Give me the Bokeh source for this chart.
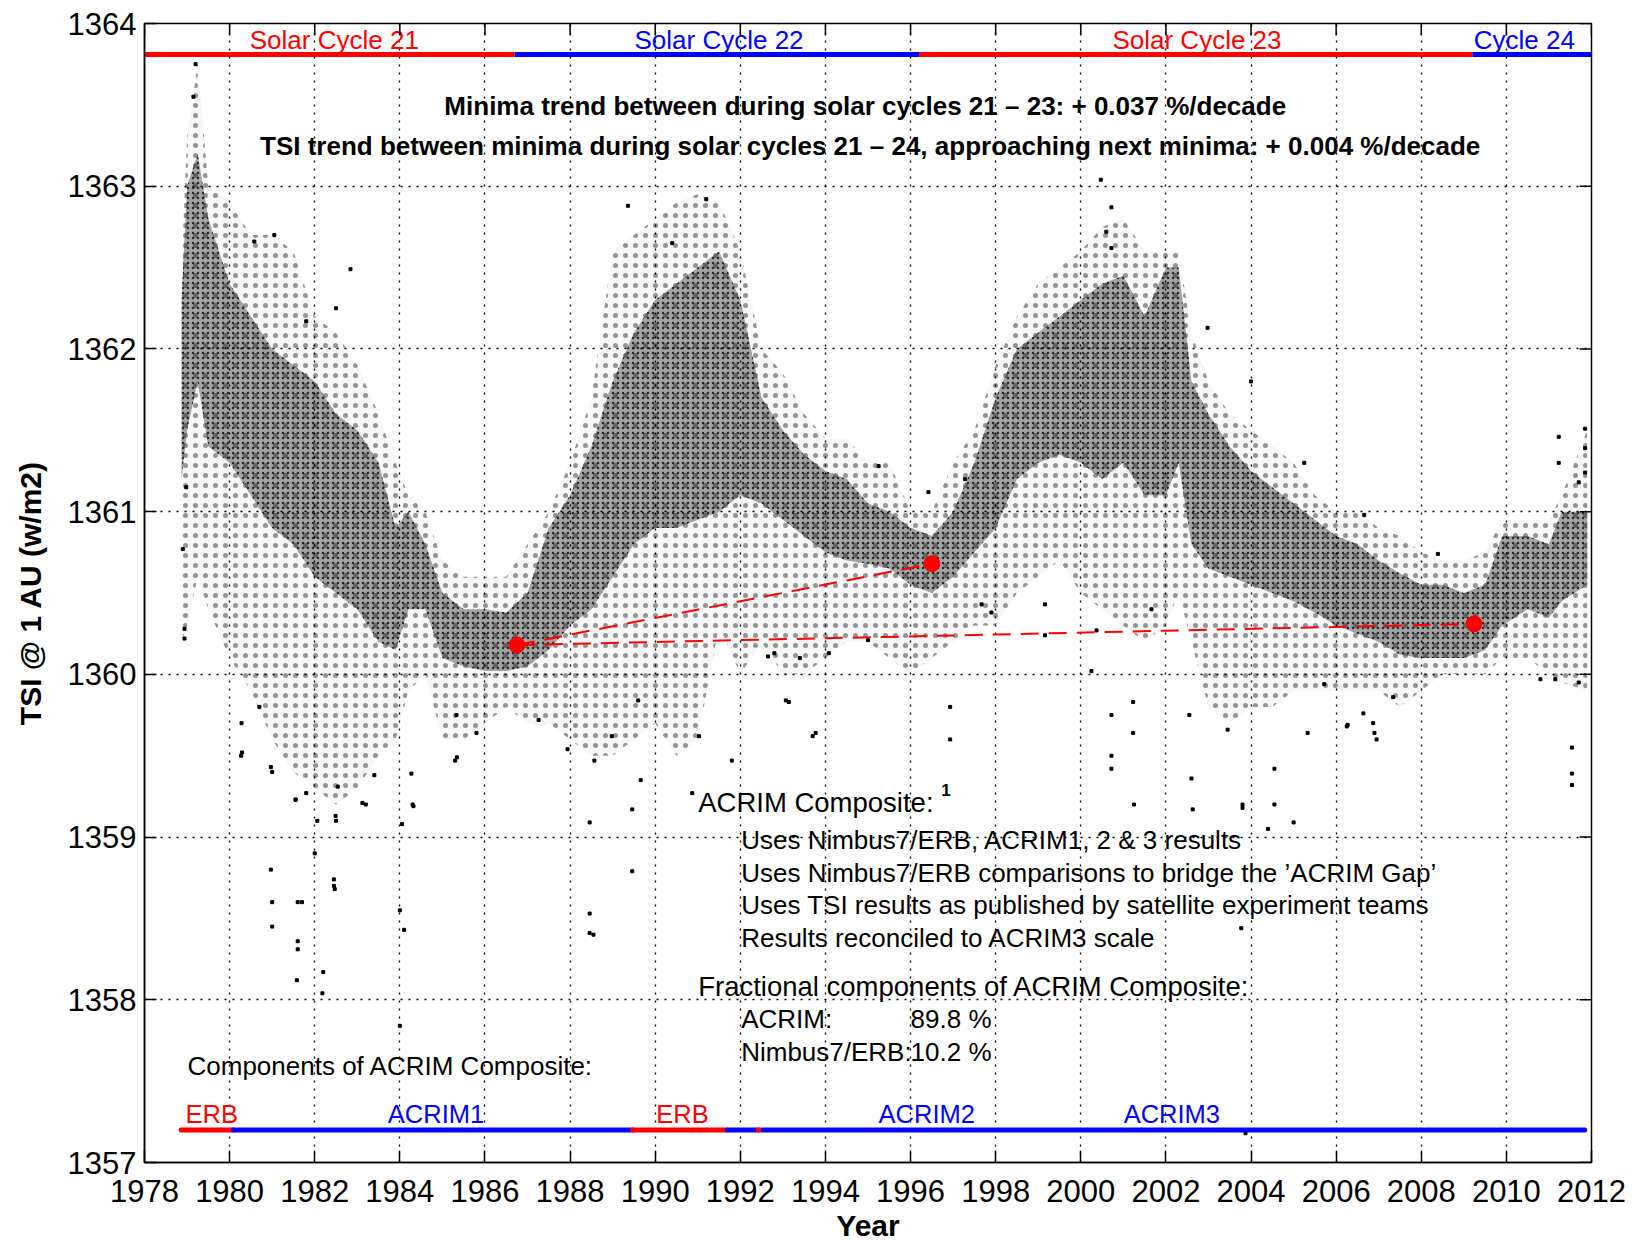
from bokeh.plotting import figure
from bokeh.models import Range1d, FixedTicker
from bokeh.core.properties import value
from bokeh.embed import file_html
from bokeh.resources import INLINE

# ---------------- data ----------------
x_ticks = list(range(1978, 2013, 2))
y_ticks = list(range(1357, 1365))

# envelope of the daily TSI cloud
env_year = [1978.87, 1979.0, 1979.25, 1979.5, 1980.0, 1980.5, 1981.0, 1981.5, 1982.0, 1982.5,
            1983.0, 1983.5, 1983.9, 1984.2, 1984.6, 1985.0, 1985.5, 1986.0, 1986.5, 1987.0,
            1987.5, 1988.0, 1988.5, 1989.0, 1989.5, 1990.0, 1990.5, 1991.0, 1991.5, 1992.0,
            1992.5, 1993.0, 1993.5, 1994.0, 1994.5, 1995.0, 1995.5, 1996.0, 1996.5, 1997.0,
            1997.5, 1998.0, 1998.5, 1999.0, 1999.5, 2000.0, 2000.5, 2001.0, 2001.5, 2002.0,
            2002.3, 2002.6, 2003.0, 2003.5, 2004.0, 2004.5, 2005.0, 2005.5, 2006.0, 2006.5,
            2007.0, 2007.5, 2008.0, 2008.5, 2009.0, 2009.5, 2009.9, 2010.5, 2011.0, 2011.3,
            2011.9]
core_lo = [1361.2, 1361.5, 1361.8, 1361.4, 1361.3, 1361.1, 1360.9, 1360.8, 1360.6, 1360.5,
           1360.4, 1360.2, 1360.15, 1360.4, 1360.4, 1360.1, 1360.05, 1360.02, 1360.02, 1360.05,
           1360.15, 1360.3, 1360.4, 1360.6, 1360.8, 1360.9, 1360.9, 1360.95, 1361.0, 1361.1,
           1361.05, 1360.95, 1360.85, 1360.75, 1360.7, 1360.68, 1360.65, 1360.55, 1360.5, 1360.6,
           1360.75, 1360.9, 1361.2, 1361.3, 1361.35, 1361.3, 1361.2, 1361.3, 1361.1, 1361.1,
           1361.3, 1360.8, 1360.65, 1360.6, 1360.55, 1360.5, 1360.45, 1360.38, 1360.3, 1360.25,
           1360.2, 1360.12, 1360.1, 1360.1, 1360.1, 1360.15, 1360.3, 1360.4, 1360.35, 1360.45,
           1360.55]
core_hi = [1362.3, 1363.0, 1363.2, 1362.8, 1362.4, 1362.2, 1362.0, 1361.9, 1361.8, 1361.6,
           1361.5, 1361.3, 1360.9, 1361.0, 1360.8, 1360.5, 1360.4, 1360.4, 1360.38, 1360.5,
           1360.9, 1361.1, 1361.4, 1361.8, 1362.1, 1362.3, 1362.4, 1362.5, 1362.6, 1362.3,
           1361.7, 1361.5, 1361.35, 1361.25, 1361.2, 1361.05, 1361.0, 1360.9, 1360.85, 1361.0,
           1361.3, 1361.7, 1362.0, 1362.1, 1362.2, 1362.3, 1362.4, 1362.45, 1362.2, 1362.5,
           1362.5, 1361.8, 1361.6, 1361.4, 1361.25, 1361.15, 1361.05, 1360.95, 1360.85, 1360.8,
           1360.7, 1360.62, 1360.55, 1360.55, 1360.5, 1360.55, 1360.85, 1360.85, 1360.8, 1361.0,
           1361.0]
outer_lo = [1360.2, 1360.3, 1360.6, 1360.4, 1360.1, 1359.9, 1359.6, 1359.4, 1359.3, 1359.2,
            1359.3, 1359.5, 1359.6, 1359.9, 1360.0, 1359.6, 1359.6, 1359.7, 1359.8, 1359.7,
            1359.7, 1359.6, 1359.5, 1359.5, 1359.6, 1359.7, 1359.5, 1359.6, 1360.3, 1360.0,
            1360.2, 1360.0, 1360.0, 1360.1, 1360.2, 1360.2, 1360.1, 1360.0, 1360.1, 1360.2,
            1360.3, 1360.3, 1360.5, 1360.6, 1360.7, 1360.5, 1360.4, 1360.3, 1360.2, 1360.3,
            1360.5, 1360.2, 1359.8, 1359.7, 1359.8, 1359.8, 1359.9, 1359.9, 1359.9, 1359.9,
            1359.9, 1359.8, 1359.9, 1360.0, 1360.0, 1360.0, 1360.1, 1360.1, 1360.0, 1359.95,
            1359.9]
outer_hi = [1362.5, 1363.3, 1363.75, 1363.0, 1362.9, 1362.7, 1362.7, 1362.6, 1362.2, 1362.1,
            1361.9, 1361.6, 1361.3, 1361.1, 1361.0, 1360.7, 1360.6, 1360.6, 1360.6, 1360.8,
            1361.0, 1361.3, 1361.7, 1362.6, 1362.7, 1362.8, 1362.9, 1362.95, 1362.9, 1362.6,
            1362.0, 1361.85, 1361.6, 1361.45, 1361.45, 1361.3, 1361.3, 1361.0, 1361.0, 1361.3,
            1361.5, 1361.9, 1362.2, 1362.4, 1362.5, 1362.6, 1362.75, 1362.8, 1362.6, 1362.6,
            1362.6, 1362.1, 1361.8, 1361.6, 1361.5, 1361.4, 1361.3, 1361.1, 1361.0, 1361.0,
            1360.9, 1360.85, 1360.75, 1360.7, 1360.7, 1360.75, 1360.95, 1360.95, 1360.95, 1361.1,
            1361.5]

# isolated daily values
scatter_year = [1979.2, 1979.15, 1978.94, 1978.94, 1978.9, 1978.98,
                1980.27, 1980.28, 1981.0, 1980.7, 1981.8, 1981.55, 1982.06, 1982.5, 1983.2, 1983.4,
                1984.3, 1984.05, 1981.0, 1981.0, 1981.6, 1981.6, 1981.58, 1982.2, 1982.45, 1982.45,
                1982.47, 1982.0, 1984.0, 1984.1, 1980.97, 1981.6, 1981.7, 1982.18, 1984.0,
                1982.84, 1982.5, 1981.05, 1980.58, 1981.8,
                1985.34, 1985.33, 1985.3, 1985.8, 1987.26, 1987.94, 1988.57, 1988.98, 1989.46,
                1989.66, 1988.46, 1991.03, 1991.8, 1993.7, 1993.07, 1989.6, 1983.12, 1982.54,
                1981.55, 1980.29, 1980.97, 1984.32, 1984.27, 1982.49, 1990.87, 1992.65,
                1988.46, 1988.46, 1989.46, 1988.55,
                1993.14, 1993.77, 1996.93, 1996.93, 1995.0, 1999.16, 1992.8, 1993.4, 1994.08,
                1997.67, 1997.9, 1999.16, 1995.25, 1997.28, 1996.42,
                2000.47, 2000.72, 2000.6, 2000.72, 2002.98, 2000.72, 2000.72, 2000.72, 2001.23,
                2001.23, 2001.25, 2002.55, 2002.6, 2002.63, 2003.8, 2003.45, 2004.55, 2004.55,
                2005.0, 2005.33, 2006.27, 2006.9, 2000.25, 2000.37, 2005.72, 2001.66, 2006.66,
                2005.25, 2004.0, 2003.77, 2003.87, 2004.4, 2003.8,
                2011.23, 2011.23, 2011.85, 2011.85, 2011.85, 2011.7, 2011.54, 2011.54, 2011.54,
                2011.7, 2006.95, 2006.87, 2006.64, 2006.25, 2007.34, 2008.39, 2010.8, 2011.15,
                1989.36, 1990.4, 1991.2]
scatter_tsi = [1363.75, 1363.55, 1360.28, 1360.22, 1360.77, 1361.15,
               1359.5, 1359.7, 1359.4, 1359.8, 1359.27, 1359.23, 1359.1, 1359.1, 1359.2, 1359.38,
               1359.2, 1359.08, 1358.6, 1358.45, 1358.6, 1358.36, 1358.12, 1358.17, 1358.7, 1358.74,
               1358.68, 1358.9, 1358.55, 1358.43, 1358.8, 1358.31, 1358.6, 1358.04, 1357.84,
               1362.49, 1362.25, 1362.7, 1362.66, 1362.17,
               1359.49, 1359.75, 1359.47, 1359.64, 1359.72, 1359.54, 1359.47, 1359.62, 1359.17,
               1359.35, 1359.09, 1359.62, 1359.47, 1359.62, 1359.84, 1359.84, 1359.21, 1359.31,
               1359.23, 1359.52, 1359.43, 1359.19, 1359.39, 1359.13, 1359.27, 1360.11,
               1358.53, 1358.41, 1358.79, 1358.4,
               1359.83, 1359.64, 1359.8, 1359.6, 1360.21, 1360.43, 1360.13, 1360.1, 1360.13,
               1360.43, 1360.38, 1360.24, 1361.28, 1361.2, 1361.12,
               1363.04, 1362.87, 1362.72, 1362.62, 1362.13, 1359.75, 1359.5, 1359.42, 1359.83,
               1359.64, 1359.2, 1359.75, 1359.36, 1359.17, 1359.2, 1359.66, 1359.42, 1359.2,
               1359.09, 1359.64, 1359.69, 1359.64, 1360.02, 1360.27, 1359.94, 1360.4, 1360.98,
               1361.3, 1361.8, 1358.44, 1357.18, 1359.05, 1359.18,
               1361.46, 1361.3, 1361.51, 1361.39, 1361.24, 1361.18, 1359.55, 1359.39, 1359.32,
               1359.95, 1359.6, 1359.7, 1359.76, 1359.68, 1359.86, 1360.74, 1359.97, 1359.97,
               1362.88, 1362.65, 1362.92]

# solar minima and trend lines
minima_year = [1986.75, 1996.5, 2009.24]
minima_tsi = [1360.18, 1360.68, 1360.31]

# solar cycles (top band)
cycle_names = ["Solar Cycle 21", "Solar Cycle 22", "Solar Cycle 23", "Cycle 24"]
cycle_start = [1978.0, 1986.7, 1996.2, 2009.2]
cycle_end = [1986.7, 1996.2, 2009.2, 2012.0]
cycle_label_year = [1982.46, 1991.5, 2002.73, 2010.42]
cycle_colors = ["#ff0000", "#0000ff", "#ff0000", "#0000ff"]
cycle_band_tsi = 1363.81
cycle_label_tsi = 1363.9

# components (bottom band)
comp_start = [1978.86, 1980.09, 1989.47, 1991.7, 1992.42, 1992.54, 2008.1, 2009.8]
comp_end = [1980.09, 1989.47, 1991.7, 1992.42, 1992.5, 2008.05, 2009.75, 2011.84]
comp_colors = ["#ff0000", "#0000ff", "#ff0000", "#0000ff", "#ff0000", "#0000ff", "#0000ff", "#0000ff"]
comp_names = ["ERB", "ACRIM1", "ERB", "ACRIM2", "ACRIM3"]
comp_label_year = [1979.58, 1984.85, 1990.64, 1996.38, 2002.14]
comp_label_colors = ["#ff0000", "#0000ff", "#ff0000", "#0000ff", "#0000ff"]
comp_band_tsi = 1357.2
comp_label_tsi = 1357.3

trend_texts = ["Minima trend between  during solar cycles 21 \u2013 23: + 0.037 %/decade",
               "TSI trend between minima during solar cycles 21 \u2013 24, approaching next minima: + 0.004 %/decade"]
trend_year = [1995.02, 1995.05]
trend_tsi = [1363.49, 1363.245]

head_texts = ["ACRIM Composite:", "Fractional components of ACRIM Composite:"]
head_year = [1991.01, 1991.01]
head_tsi = [1359.21, 1358.08]

info_texts = ["Uses Nimbus7/ERB, ACRIM1, 2 & 3  results",
              "Uses Nimbus7/ERB comparisons to bridge the \u2019ACRIM Gap\u2019",
              "Uses TSI results as published by satellite experiment teams",
              "Results reconciled to ACRIM3 scale",
              "ACRIM:", "89.8 %",
              "Nimbus7/ERB:", "10.2 %",
              "Components of ACRIM Composite:"]
info_year = [1992.02, 1992.02, 1992.02, 1992.02, 1992.02, 1996.0, 1992.02, 1996.0, 1979.01]
info_tsi = [1358.98, 1358.78, 1358.58, 1358.38, 1357.88, 1357.88, 1357.68, 1357.68, 1357.59]

FONT = value("Liberation Sans")

# ---------------- figure ----------------
p = figure(width=1644, height=1245, x_range=Range1d(1978, 2012), y_range=Range1d(1357, 1364),
           output_backend="svg", toolbar_location=None,
           min_border_left=144, min_border_right=53, min_border_top=23, min_border_bottom=83)
p.background_fill_color = "white"
p.border_fill_color = "white"
p.outline_line_color = "black"
p.outline_line_width = 1.5

# grid
for g in (p.xgrid[0], p.ygrid[0]):
    g.grid_line_color = "black"
    g.grid_line_dash = "2 6"
    g.grid_line_width = 1.3
    g.grid_line_alpha = 1.0
p.xgrid[0].ticker = FixedTicker(ticks=x_ticks)
p.ygrid[0].ticker = FixedTicker(ticks=y_ticks)

# data cloud
p.varea(x=env_year, y1=outer_lo, y2=outer_hi, fill_color="black", fill_alpha=0.03,
        hatch_pattern="dot", hatch_color="black", hatch_alpha=0.4, hatch_scale=10, hatch_weight=1)
p.varea(x=env_year, y1=core_lo, y2=core_hi, fill_color="black", fill_alpha=0.34,
        hatch_pattern="dot", hatch_color="black", hatch_alpha=0.75, hatch_scale=5, hatch_weight=1)
p.scatter(x=scatter_year, y=scatter_tsi, marker="square", size=3, color="black")

# trend lines and minima
p.line(x=[minima_year[0], minima_year[1]], y=[minima_tsi[0], minima_tsi[1]],
       line_color="#ff0000", line_width=2, line_dash="18 10")
p.line(x=[minima_year[0], minima_year[2]], y=[minima_tsi[0], minima_tsi[2]],
       line_color="#ff0000", line_width=2, line_dash="18 10")
p.scatter(x=minima_year, y=minima_tsi, size=16, color="#ff0000")

# cycle band
p.segment(x0=cycle_start, x1=cycle_end, y0=[cycle_band_tsi] * 4, y1=[cycle_band_tsi] * 4,
          line_color=cycle_colors, line_width=5)
p.text(x=cycle_label_year, y=[cycle_label_tsi] * 4, text=cycle_names, text_color=cycle_colors,
       text_align="center", text_baseline="middle", text_font=FONT, text_font_size="26px")

# component band
n_comp = len(comp_start)
p.segment(x0=comp_start, x1=comp_end, y0=[comp_band_tsi] * n_comp, y1=[comp_band_tsi] * n_comp,
          line_color=comp_colors, line_width=5, line_cap="round")
p.text(x=comp_label_year, y=[comp_label_tsi] * len(comp_names), text=comp_names, text_color=comp_label_colors,
       text_align="center", text_baseline="middle", text_font=FONT, text_font_size="25.5px")

# texts
p.text(x=trend_year, y=trend_tsi, text=trend_texts, text_color="black", text_align="center",
       text_baseline="middle", text_font=FONT, text_font_style="bold", text_font_size="26px")
p.text(x=head_year, y=head_tsi, text=head_texts, text_color="black", text_align="left",
       text_baseline="middle", text_font=FONT, text_font_size="27.5px")
p.text(x=info_year, y=info_tsi, text=info_texts, text_color="black", text_align="left",
       text_baseline="middle", text_font=FONT, text_font_size="26px")
p.text(x=[1996.72], y=[1359.29], text=["1"], text_color="black", text_align="left",
       text_baseline="middle", text_font=FONT, text_font_style="bold", text_font_size="17px")

# inward ticks on the top and right edges of the box
top_len = 12 / 162.7
right_len = 12 / 42.56
p.segment(x0=x_ticks, x1=x_ticks, y0=[1364] * len(x_ticks), y1=[1364 - top_len] * len(x_ticks),
          line_color="black", line_width=1.5)
p.segment(x0=[2012] * len(y_ticks), x1=[2012 - right_len] * len(y_ticks), y0=y_ticks, y1=y_ticks,
          line_color="black", line_width=1.5)

# axes
for ax in (p.xaxis[0], p.yaxis[0]):
    ax.major_tick_in = 12
    ax.major_tick_out = 0
    ax.minor_tick_line_color = None
    ax.axis_line_width = 1.5
    ax.major_tick_line_width = 1.5
    ax.major_label_text_font = "Liberation Sans"
    ax.major_label_text_font_size = "31px"
    ax.major_label_text_color = "black"
    ax.axis_label_text_font = "Liberation Sans"
    ax.axis_label_text_font_style = "bold"
    ax.axis_label_text_font_size = "30px"
    ax.axis_label_text_color = "black"
p.xaxis[0].ticker = FixedTicker(ticks=x_ticks)
p.yaxis[0].ticker = FixedTicker(ticks=y_ticks)
p.xaxis[0].axis_label = "Year"
p.yaxis[0].axis_label = "TSI @ 1 AU (w/m2)"
p.xaxis[0].major_label_standoff = 17
p.xaxis[0].axis_label_standoff = 4
p.yaxis[0].major_label_standoff = 8
p.yaxis[0].axis_label_standoff = 18

open("out.html", "w").write(file_html(p, INLINE))
